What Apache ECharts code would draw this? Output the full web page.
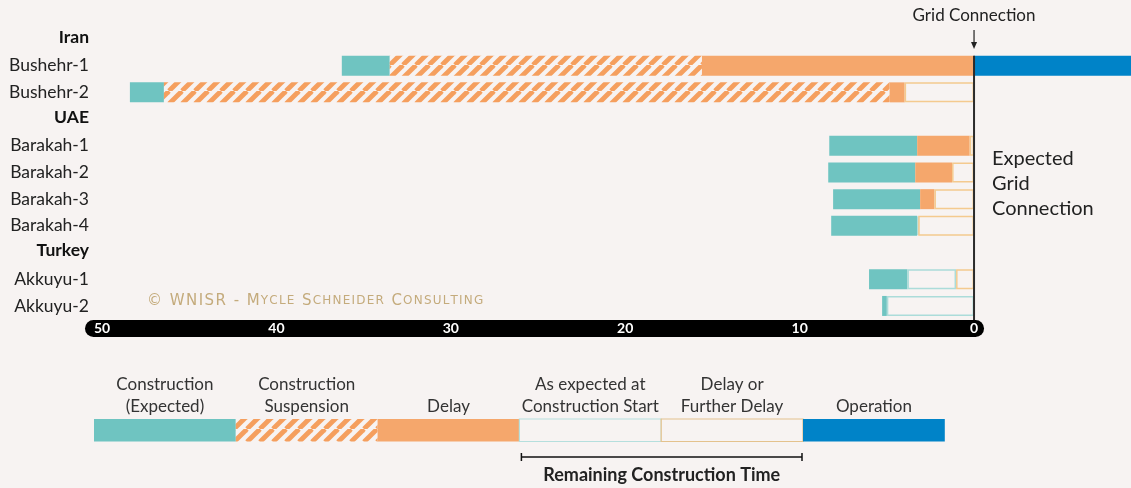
<!DOCTYPE html>
<html>
<head>
<meta charset="utf-8">
<script src="https://cdn.jsdelivr.net/npm/echarts@6/dist/echarts.min.js"></script>
<style>
html,body{margin:0;padding:0;background:#f7f3f2;}
#main{width:1131px;height:488px;}
</style>
</head>
<body>
<div id="main"></div>
<script>
// ---------- DATA (years before grid connection; 0 = grid connection) ----------
const categories = ['Iran','Bushehr-1','Bushehr-2','UAE','Barakah-1','Barakah-2','Barakah-3','Barakah-4','Turkey','Akkuyu-1','Akkuyu-2'];
const countryHeaders = ['Iran','UAE','Turkey'];
const xTickValues = [0,10,20,30,40,50];
// [unit, start, end]
const construction = [['Bushehr-1',36.25,33.5],['Bushehr-2',48.4,46.45],['Barakah-1',8.3,3.26],['Barakah-2',8.36,3.37],['Barakah-3',8.08,3.09],['Barakah-4',8.19,3.26],['Akkuyu-1',6.02,3.82],['Akkuyu-2',5.27,5.0]];
const suspension = [['Bushehr-1',33.5,15.6],['Bushehr-2',46.45,4.84]];
const delay = [['Bushehr-1',15.6,0],['Bushehr-2',4.84,3.98],['Barakah-1',3.26,0.25],['Barakah-2',3.37,1.26],['Barakah-3',3.09,2.27]];
const remainingExpected = [['Barakah-4',3.26,3.2],['Akkuyu-1',3.82,1.03],['Akkuyu-2',5.0,0]];
const furtherDelay = [['Bushehr-2',3.98,0],['Barakah-1',0.25,0],['Barakah-2',1.26,0],['Barakah-3',2.27,0],['Barakah-4',3.2,0],['Akkuyu-1',1.03,0]];
const operation = [['Bushehr-1',0,-9]];
const legendLabels = ['Construction\n(Expected)','Construction\nSuspension','Delay','As expected at\nConstruction Start','Delay or\nFurther Delay','Operation'];
const bracketLabel = 'Remaining Construction Time';
const gridLabel = 'Grid Connection';
const expectedLabel = 'Expected\nGrid\nConnection';
const copyrightWords = ['©','WNISR','-','Mycle','Schneider','Consulting'];

// ---------- STYLE ----------
const BG = '#f7f3f2';
const TEAL = '#6fc4c1', ORANGE = '#f5a76c', BLUE = '#0083c8', HATCH = '#f59f5e';
const OUT_ORANGE = '#f4ca8f', OUT_TEAL = '#abdcd9';
const FONT = 'Lato, "Open Sans", sans-serif';
const CP_FONT = '"DejaVu Sans", sans-serif';

function hatchCanvas(){
  const c = document.createElement('canvas');
  const s = 13; c.width = s; c.height = s;
  const g = c.getContext('2d');
  g.fillStyle = BG; g.fillRect(0,0,s,s);
  g.strokeStyle = HATCH; g.lineWidth = 4.8;
  for (const k of [-s,0,s]) { g.beginPath(); g.moveTo(k, s); g.lineTo(k + s, 0); g.stroke(); }
  return c;
}
const hatch = {type:'pattern', image: hatchCanvas(), repeat: 'repeat'};

const segStyles = {
  construction: {fill: TEAL},
  suspension: {fill: hatch},
  delay: {fill: ORANGE},
  remainingExpected: {fill: BG, stroke: OUT_TEAL, lineWidth: 1.5},
  furtherDelay: {fill: BG, stroke: OUT_ORANGE, lineWidth: 1.5},
  operation: {fill: BLUE}
};
const BAR_H = 20;

function makeSeries(name, arr){
  const st = segStyles[name];
  return {
    type: 'custom', name: name,
    coordinateSystem: 'cartesian2d',
    encode: {x: [1,2], y: 0},
    data: arr.map(d => [categories.indexOf(d[0]), d[1], d[2]]),
    z: name === 'remainingExpected' || name === 'furtherDelay' ? 3 : 2,
    renderItem: function(params, api){
      const y = api.value(0);
      const a = api.coord([api.value(1), y]);
      const b = api.coord([api.value(2), y]);
      let x0 = Math.min(a[0], b[0]), w = Math.abs(b[0]-a[0]);
      let y0 = a[1] - BAR_H/2, h = BAR_H;
      if (st.stroke) { const i = st.lineWidth/2; x0 += i; w = Math.max(0, w - 2*i); y0 += i; h -= 2*i; }
      return {type: 'rect', shape: {x: x0, y: y0, width: w, height: h}, style: Object.assign({}, st)};
    }
  };
}

const chart = echarts.init(document.getElementById('main'), null, {renderer: 'canvas'});

const PX_PER_YEAR = 17.46;
const GRID_LEFT = 102;
const option = {
  backgroundColor: BG,
  animation: false,
  textStyle: {fontFamily: FONT},
  grid: {left: GRID_LEFT, width: PX_PER_YEAR * 59, top: 25.6, height: 293.7, containLabel: false},
  xAxis: {
    type: 'value', min: -9, max: 50, inverse: true,
    axisLine: {show: false}, axisTick: {show: false}, splitLine: {show: false},
    axisLabel: {customValues: xTickValues, color: '#fff', fontWeight: 'bold', fontSize: 14, fontFamily: FONT, margin: 2, verticalAlign: 'top'}
  },
  yAxis: {
    type: 'category', data: categories, inverse: true,
    axisLine: {show: false}, axisTick: {show: false}, splitLine: {show: false},
    axisLabel: {
      margin: 13, fontFamily: FONT,
      formatter: v => countryHeaders.includes(v) ? '{h|' + v + '}' : '{n|' + v + '}',
      rich: {
        h: {fontWeight: 'bold', fontSize: 17.5, color: '#111', fontFamily: FONT, padding: [0,0,4,0]},
        n: {fontSize: 17.5, color: '#222', fontFamily: FONT}
      }
    }
  },
  series: [
    makeSeries('construction', construction),
    makeSeries('suspension', suspension),
    makeSeries('delay', delay),
    makeSeries('remainingExpected', remainingExpected),
    makeSeries('furtherDelay', furtherDelay),
    makeSeries('operation', operation)
  ]
};
chart.setOption(option);

// ---------- Annotations positioned through the axes ----------
const zeroX = chart.convertToPixel({xAxisIndex: 0}, 0);
const fiftyX = chart.convertToPixel({xAxisIndex: 0}, 50);
const firstUnitY = chart.convertToPixel({yAxisIndex: 0}, 'Bushehr-1');
const lastUnitY = chart.convertToPixel({yAxisIndex: 0}, 'Akkuyu-2');
const pillTop = lastUnitY + 14;
const barakahY = chart.convertToPixel({yAxisIndex: 0}, 'Barakah-2');

// copyright in small caps
function smallCaps(words){
  const parts = [];
  words.forEach((w, i) => {
    const sp = i ? '{s|  }' : '';
    if (w === w.toUpperCase()) { parts.push(sp + '{b|' + w.split('').join('\u200A') + '}'); }
    else { parts.push(sp + '{b|' + w[0] + '}{s|' + '\u200A' + w.slice(1).toUpperCase().split('').join('\u200A') + '}'); }
  });
  return parts.join('');
}
const cpY = lastUnitY - 5;

const legendX = 94, legendW = 141.8, legendTop = 419, legendH = 22.5;
const legendFills = [TEAL, hatch, ORANGE, BG, BG, BLUE];
const legendStrokes = [null, null, null, '#b5dfdd', '#e4c28d', null];
const graphics = [];
// axis pill
graphics.push({type: 'rect', z: -1, shape: {x: fiftyX - 17, y: pillTop, width: zeroX - fiftyX + 27, height: 17, r: 8.5}, style: {fill: '#000'}});
// zero line
graphics.push({type: 'line', z: 100, shape: {x1: zeroX, y1: firstUnitY - BAR_H/2, x2: zeroX, y2: pillTop}, style: {stroke: '#2b2b2b', lineWidth: 2}});
// Grid connection label + arrow
graphics.push({type: 'text', z: 100, style: {text: gridLabel, x: zeroX, y: 16, align: 'center', verticalAlign: 'middle', font: '17px ' + FONT, fill: '#222'}});
graphics.push({type: 'line', z: 100, shape: {x1: zeroX, y1: 30, x2: zeroX, y2: 46}, style: {stroke: '#222', lineWidth: 1.2}});
graphics.push({type: 'polygon', z: 100, shape: {points: [[zeroX-3, 42],[zeroX+3, 42],[zeroX, 49]]}, style: {fill: '#222'}});
// Expected grid connection
graphics.push({type: 'text', z: 100, style: {text: expectedLabel, x: zeroX + 18, y: barakahY + 11, align: 'left', verticalAlign: 'middle', font: '20px ' + FONT, fill: '#222', lineHeight: 25}});
// copyright
graphics.push({type: 'text', z: 100, style: {text: smallCaps(copyrightWords), x: 147, y: cpY, verticalAlign: 'middle', rich: {
  b: {fontSize: 15, fill: '#c4ab7c', fontFamily: CP_FONT},
  s: {fontSize: 12, fill: '#c4ab7c', fontFamily: CP_FONT}
}}});
// legend
legendLabels.forEach((lab, i) => {
  const x = legendX + i * legendW;
  const st = legendStrokes[i] ? {fill: legendFills[i], stroke: legendStrokes[i], lineWidth: 1.2} : {fill: legendFills[i]};
  graphics.push({type: 'rect', shape: {x: x, y: legendTop, width: legendW, height: legendH}, style: st});
  graphics.push({type: 'text', style: {text: lab, x: x + legendW/2, y: 418, align: 'center', verticalAlign: 'bottom', font: '17px ' + FONT, fill: '#333', lineHeight: 22}});
});
// bracket
const bx1 = legendX + 3 * legendW + 2, bx2 = legendX + 5 * legendW - 1;
graphics.push({type: 'line', shape: {x1: bx1, y1: 457, x2: bx2, y2: 457}, style: {stroke: '#111', lineWidth: 1.5}});
graphics.push({type: 'line', shape: {x1: bx1, y1: 453, x2: bx1, y2: 461}, style: {stroke: '#111', lineWidth: 1.5}});
graphics.push({type: 'line', shape: {x1: bx2, y1: 453, x2: bx2, y2: 461}, style: {stroke: '#111', lineWidth: 1.5}});
graphics.push({type: 'text', style: {text: bracketLabel, x: (bx1 + bx2)/2, y: 475, align: 'center', verticalAlign: 'middle', font: 'bold 18px ' + FONT, fill: '#222'}});

chart.setOption({graphic: {elements: graphics}});
</script>
</body>
</html>
